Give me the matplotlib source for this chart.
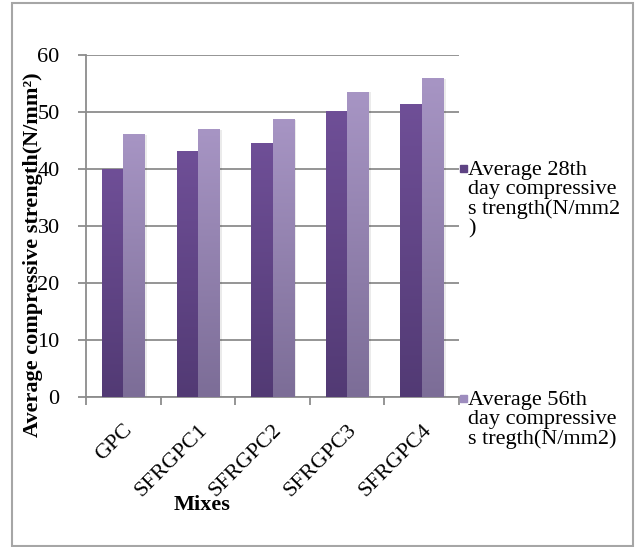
import numpy as np
import matplotlib.pyplot as plt
from matplotlib.colors import LinearSegmentedColormap
from matplotlib.patches import Rectangle

# Data
mixes = ['GPC', 'SFRGPC1', 'SFRGPC2', 'SFRGPC3', 'SFRGPC4']
day28 = [40.0, 43.0, 44.4, 50.1, 51.3]
day56 = [46.0, 46.9, 48.6, 53.5, 55.8]
labels = ['Average 28th\nday compressive\ns trength(N/mm2\n)',
          'Average 56th\nday compressive\ns tregth(N/mm2)']

plt.rcParams['font.family'] = ['Liberation Serif', 'DejaVu Serif']

W, H = 635, 547
fig = plt.figure(figsize=(W / 100, H / 100), dpi=100)
ax = fig.add_axes([86 / W, 1 - 397 / H, (459 - 86) / W, (397 - 55) / H])

# gradient fills, darker towards the base
dark = LinearSegmentedColormap.from_list('dark', ['#523a74', '#6f4f97'])
light = LinearSegmentedColormap.from_list('light', ['#7c6d97', '#a795c4'])
grad = np.linspace(0, 1, 256).reshape(-1, 1)

x = np.arange(len(mixes))
w = 1 / 3.5  # gap width 150%
for vals, off, cmap in [(day28, -w / 2, dark), (day56, w / 2, light)]:
    # soft drop shadow
    ax.bar(x + off + 0.035, vals, w, color='#000000', alpha=0.08, zorder=2,
           linewidth=0)
    bars = ax.bar(x + off, vals, w, color='none', linewidth=0, zorder=3)
    for b in bars:
        ax.imshow(grad, cmap=cmap, origin='lower', aspect='auto', zorder=3,
                  extent=[b.get_x(), b.get_x() + b.get_width(), 0, b.get_height()])

ax.set_xlim(-0.5, len(mixes) - 0.5)
ax.set_ylim(0, 60)
ax.set_aspect('auto')

ax.set_yticks(np.arange(0, 61, 10))
ax.yaxis.grid(True, color='#8c8c8c', linewidth=1.3, zorder=1)
ax.set_axisbelow(True)
ax.tick_params(axis='y', length=6, width=1.3, color='#8c8c8c', pad=13,
               labelsize=16)

ax.set_xticks(x)
ax.set_xticklabels(mixes, rotation=45, ha='right', rotation_mode='anchor',
                   fontsize=16)
ax.set_xticks(np.arange(-0.5, len(mixes)), minor=True)
ax.tick_params(axis='x', which='major', length=0, pad=17)
ax.tick_params(axis='x', which='minor', length=6, width=1.3, color='#8c8c8c')

for s in ['top', 'right']:
    ax.spines[s].set_visible(False)
for s in ['left', 'bottom']:
    ax.spines[s].set_color('#8c8c8c')
    ax.spines[s].set_linewidth(1.3)

fig.text(33 / W, 1 - 255 / H, 'Average compressive strength(N/mm²)',
         rotation=90, ha='center', va='center', fontsize=16,
         fontweight='bold')
fig.text(202 / W, 1 - 505 / H, 'Mixes', ha='center', va='center',
         fontsize=16, fontweight='bold')

# legend entries
for lab, col, ytop in [(labels[0], '#5e4384', 168), (labels[1], '#9d8cbe', 398)]:
    fig.patches.append(Rectangle((460 / W, 1 - (ytop + 4) / H), 7 / W, 7 / H,
                                 transform=fig.transFigure, color=col))
    fig.text(468 / W, 1 - (ytop - 7) / H, lab, ha='left', va='top',
             fontsize=16, linespacing=1.02)

# chart border
fig.patches.append(Rectangle((12 / W, 1 - 546 / H), 621 / W, 543 / H,
                             transform=fig.transFigure, fill=False,
                             edgecolor='#a6a6a6', linewidth=1.5))

plt.savefig('out.png', dpi=100)
